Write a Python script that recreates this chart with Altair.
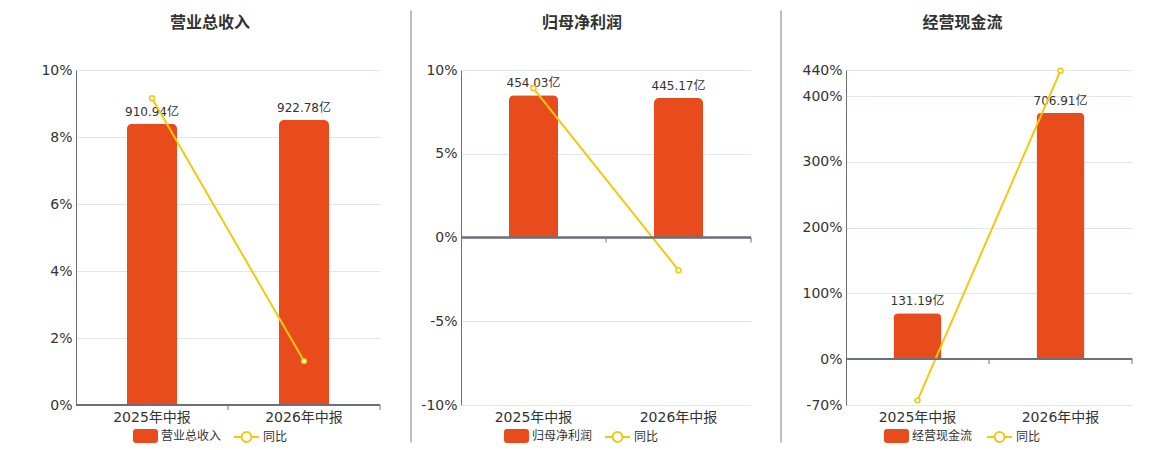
import altair as alt
import pandas as pd

# ---------------- data ----------------
categories = ["2025年中报", "2026年中报"]
titles = ["营业总收入", "归母净利润", "经营现金流"]
values = [[910.94, 922.78], [454.03, 445.17], [131.19, 706.91]]
yoy = [[9.16, 1.31], [8.91, -1.95], [-62.9, 439.0]]
pct_ticks = [[0, 2, 4, 6, 8, 10], [-10, -5, 0, 5, 10], [-70, 0, 100, 200, 300, 400, 440]]
pct_domains = [[0, 10], [-10, 10], [-70, 440]]
bar_domains = [[0, 1085], [-535, 535], [-132, 830]]
yoy_name = "同比"

# ---------------- layout / style ----------------
widths = [304, 290, 286]
extents = [68, 80, 94]
bar_widths = [50, 49, 48]
legend_x = [57, 43, 38]
legend2_x = [157, 143, 140]
title_dx = [-18, -24, -26.5]
sep_x = [0, -50, -65]
sep_opacity = [0, 1, 1]
HEIGHT = 335

RED = "#E84C1D"
YELLOW = "#F4C80C"
AXIS = "#6E7079"
GRID = "#E0E6F1"
TEXT = "#333333"
SEP = "#AAAAAA"
FONT = "DejaVu Sans, Noto Sans CJK SC, sans-serif"
TFONT = "Noto Sans CJK SC, DejaVu Sans, sans-serif"

RECT_PATH = ("M-0.57,-1 L2.14,-1 Q2.57,-1 2.57,-0.57 L2.57,0.57 Q2.57,1 2.14,1 "
             "L-0.57,1 Q-1,1 -1,0.57 L-1,-0.57 Q-1,-1 -0.57,-1 Z")
LINE_PATH = ("M-1,0 L0.086,0 M1.486,0 L2.571,0 M1.486,0 "
             "A0.7,0.7 0 1,1 0.086,0 A0.7,0.7 0 1,1 1.486,0")


def panel(i):
    name = titles[i]
    df = pd.DataFrame({
        "cat": categories,
        "value": values[i],
        "yoy": yoy[i],
        "label": [f"{v:.2f}亿" for v in values[i]],
        "bar_series": [name] * len(categories),
        "yoy_series": [yoy_name] * len(categories),
    })
    xscale = alt.Scale(domain=categories, paddingInner=0, paddingOuter=0)
    xaxis = alt.Axis(title=None, domain=False, ticks=False, grid=False, labelAngle=0,
                     labelPadding=5, labelFontSize=14, labelColor=TEXT, labelFont=FONT)
    x = alt.X("cat:N", sort=categories, scale=xscale, axis=xaxis)
    bscale = alt.Scale(domain=bar_domains[i], nice=False, zero=False)
    pscale = alt.Scale(domain=pct_domains[i], nice=False, zero=False)

    common = dict(title=None, orient="none", legendY=359, direction="horizontal",
                  symbolSize=196, labelOffset=14, labelFontSize=12,
                  labelColor=TEXT, labelFont=FONT)
    bar_legend = alt.Legend(legendX=legend_x[i], symbolType=RECT_PATH,
                            symbolStrokeWidth=0, **common)
    line_legend = alt.Legend(legendX=legend2_x[i], symbolType=LINE_PATH,
                             symbolFillColor="white", symbolStrokeWidth=2,
                             symbolOpacity=1, **common)

    yaxis = alt.Axis(title=None, values=pct_ticks[i], labelExpr="datum.value + '%'",
                     grid=True, gridColor=GRID, gridWidth=1, domain=True,
                     domainColor=AXIS, domainWidth=1, ticks=False, labelPadding=4,
                     labelFontSize=14, labelColor=TEXT, labelFont=FONT,
                     labelOverlap=False, minExtent=extents[i], maxExtent=extents[i],
                     orient="left")

    base = alt.Chart(df)

    sep = base.mark_rule(color=SEP, strokeWidth=1, opacity=sep_opacity[i]).encode(
        x=alt.value(sep_x[i]), y=alt.value(-59.5), y2=alt.value(372.5))

    bars = base.mark_bar(width=bar_widths[i], cornerRadiusTopLeft=5,
                         cornerRadiusTopRight=5).encode(
        x=x,
        y=alt.Y("value:Q", scale=bscale, axis=None),
        color=alt.Color("bar_series:N", scale=alt.Scale(domain=[name], range=[RED]),
                        legend=bar_legend),
    )
    labels = base.mark_text(dy=-5, baseline="bottom", fontSize=12, color=TEXT,
                            font=FONT).encode(
        x=x,
        y=alt.Y("value:Q", scale=bscale, axis=None),
        text="label:N",
    )

    zero = base.mark_rule(color=AXIS, strokeWidth=2).encode(
        y=alt.YDatum(0, scale=pscale))
    ticks = base.mark_rule(color=AXIS, strokeWidth=1, y2Offset=5).encode(
        x=alt.X("cat:N", sort=categories, scale=xscale, axis=xaxis, bandPosition=1),
        y=alt.YDatum(0, scale=pscale),
        y2=alt.Y2Datum(0),
    )
    line = base.mark_line(strokeWidth=2).encode(
        x=x,
        y=alt.Y("yoy:Q", scale=pscale, axis=yaxis),
        stroke=alt.Stroke("yoy_series:N",
                          scale=alt.Scale(domain=[yoy_name], range=[YELLOW]),
                          legend=line_legend),
    )
    points = base.mark_point(shape="circle", filled=True, fill="white", stroke=YELLOW,
                             strokeWidth=1.5, size=24, opacity=1).encode(
        x=x,
        y=alt.Y("yoy:Q", scale=pscale),
    )

    left = alt.layer(sep, bars, labels)
    right = alt.layer(line, zero, ticks, points)
    return alt.layer(left, right).resolve_scale(y="independent").properties(
        width=widths[i], height=HEIGHT,
        title=alt.Title(name, fontSize=16, fontWeight="bold", color=TEXT, font=TFONT,
                        frame="group", anchor="middle", dx=title_dx[i], offset=-20.5),
    )


chart = alt.hconcat(panel(0), panel(1), panel(2), spacing=0).resolve_scale(
    color="independent", stroke="independent"
).resolve_legend(
    color="independent", stroke="independent"
).properties(
    padding={"left": 0, "top": 2, "right": 0, "bottom": 0}
).configure_view(stroke=None)

chart.save("out.html", embed_options={"renderer": "svg", "actions": False})
